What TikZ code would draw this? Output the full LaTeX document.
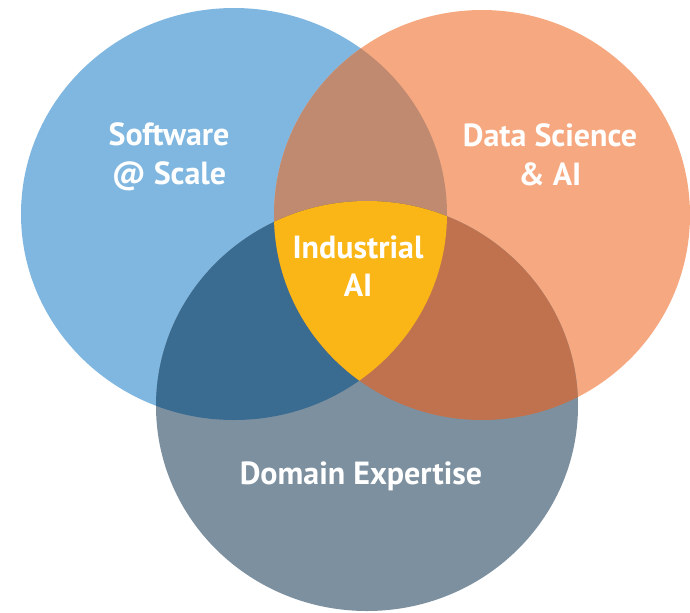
\documentclass[tikz,border=0pt]{standalone}
\usepackage{fontspec}
\setmainfont{PT Sans}
\usepackage{xcolor}
\usetikzlibrary{positioning}

\definecolor{softblue}{HTML}{80B7E0}
\definecolor{dataorange}{HTML}{F6A980}
\definecolor{domaingray}{HTML}{7D909F}
\definecolor{blueorange}{HTML}{BF8A70}
\definecolor{bluegray}{HTML}{3A6C92}
\definecolor{orangegray}{HTML}{C0724E}
\definecolor{indgold}{HTML}{FAB617}

\newcommand{\softc}{(S) ellipse [x radius=213, y radius=206]}
\newcommand{\datac}{(D) ellipse [x radius=208, y radius=205]}
\newcommand{\domc}{(E) ellipse [x radius=211, y radius=205]}

\begin{document}
\begin{tikzpicture}[
        x=0.75pt, y=-0.75pt,
        every node/.style={align=center},
        label/.style={text=white, font=\bfseries\fontsize{24}{29}\selectfont},
    ]
    \useasboundingbox (0,0) rectangle (690,612);
    % Centres
    \coordinate (S) at (234,214);
    \coordinate (D) at (482,215);
    \coordinate (E) at (367,406);
    % Circles
    \fill[softblue] \softc;
    \fill[dataorange] \datac;
    \fill[domaingray] \domc;
    % Overlaps
    \begin{scope}
        \clip \softc;
        \fill[blueorange] \datac;
    \end{scope}
    \begin{scope}
        \clip \softc;
        \fill[bluegray] \domc;
    \end{scope}
    \begin{scope}
        \clip \datac;
        \fill[orangegray] \domc;
    \end{scope}
    \begin{scope}
        \clip \softc;
        \clip \datac;
        \fill[indgold] \domc;
    \end{scope}
    % Nodes
    \node[label] (soft) at (169,157) {Software \\ @ Scale};
    \node[label] (data) at (550,155) {Data Science \\ \& AI};
    \node[label] (ind) at (358,266) {Industrial \\ AI};
    \node[label] (dom) at (361,476) {Domain Expertise};
\end{tikzpicture}
\end{document}
